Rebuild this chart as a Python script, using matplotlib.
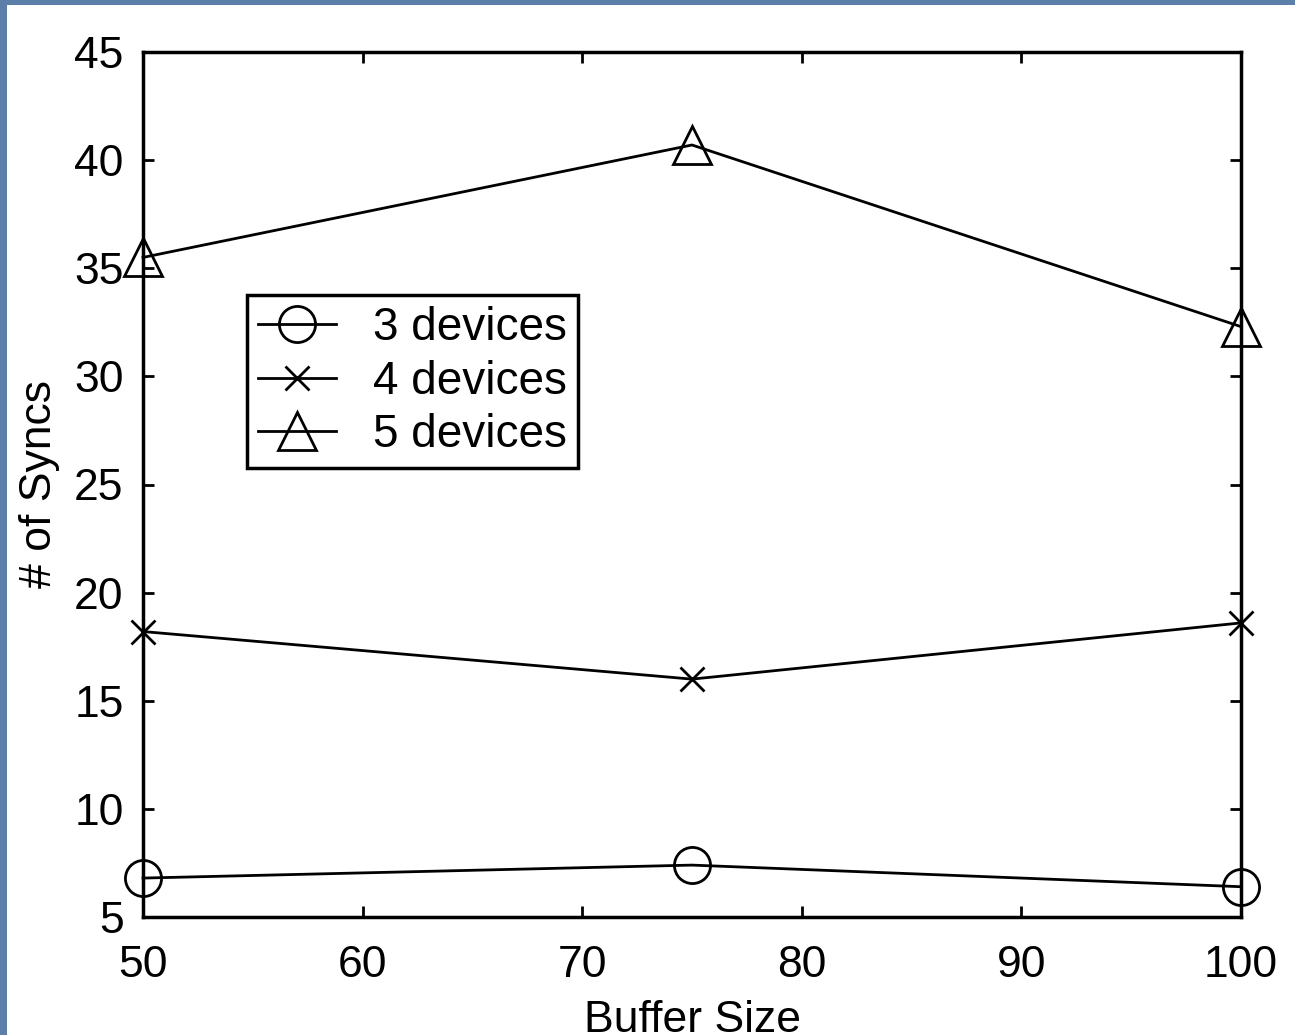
import matplotlib
matplotlib.use("Agg")
from matplotlib import pyplot as plt
from matplotlib.patches import Rectangle

buffer_sizes = [50, 75, 100]
syncs_3 = [6.8, 7.4, 6.4]
syncs_4 = [18.2, 16.0, 18.6]
syncs_5 = [35.5, 40.7, 32.3]
labels = ["3 devices", "4 devices", "5 devices"]

plt.rcParams['font.family'] = ['Liberation Sans', 'DejaVu Sans']

fig = plt.figure(figsize=(12.95, 10.35), dpi=100, facecolor="#5b7fa8")
# white slide area over the blue template edge
fig.patches.append(Rectangle((7 / 1295, 0), 1, 1 - 5 / 1035, transform=fig.transFigure,
                             facecolor="white", edgecolor="none", zorder=-5))

ax = fig.add_axes([143 / 1295, 1 - 917 / 1035, (1241 - 143) / 1295, (917 - 52) / 1035])
ax.set_facecolor("white")

ax.plot(buffer_sizes, syncs_3, "k-", marker="o", markersize=26, markerfacecolor="none",
        markeredgewidth=2, linewidth=2, label=labels[0], clip_on=False, zorder=3)
ax.plot(buffer_sizes, syncs_4, "k-", marker="x", markersize=17,
        markeredgewidth=2, linewidth=2, label=labels[1], clip_on=False, zorder=3)
ax.plot(buffer_sizes, syncs_5, "k-", marker="^", markersize=27, markerfacecolor="none",
        markeredgewidth=2, linewidth=2, label=labels[2], clip_on=False, zorder=3)

ax.set_xlim(50, 100)
ax.set_ylim(5, 45)
ax.set_xticks([50, 60, 70, 80, 90, 100])
ax.set_yticks([5, 10, 15, 20, 25, 30, 35, 40, 45])
ax.tick_params(direction="in", length=8, width=2, labelsize=32, top=True, right=True)
ax.tick_params(axis="y", pad=14)
ax.tick_params(axis="x", pad=20)
for s in ax.spines.values():
    s.set_linewidth(2.5)

ax.set_xlabel("Buffer Size", fontsize=32, labelpad=10)
ax.set_ylabel("# of Syncs", fontsize=32, labelpad=10)

leg = ax.legend(loc="upper left", bbox_to_anchor=((247 - 143) / 1098, (917 - 295) / 865),
                fontsize=33, frameon=True, fancybox=False, framealpha=1,
                handlelength=1.7, handletextpad=0.8, borderpad=0.25,
                labelspacing=0.2, borderaxespad=0)
leg.get_frame().set_edgecolor("black")
leg.get_frame().set_linewidth(2.5)

fig.savefig("out.png", dpi=100, facecolor=fig.get_facecolor())
